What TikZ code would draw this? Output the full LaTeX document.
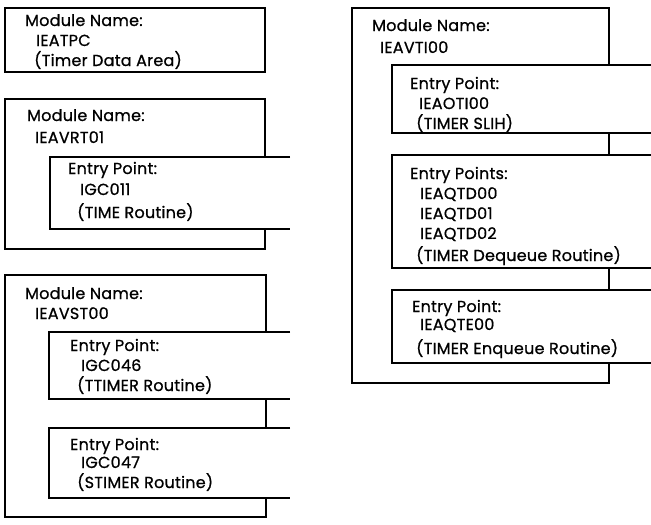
\documentclass[tikz,border=0pt]{standalone}
\usepackage{fontspec}
\setmainfont{Poppins}[FakeBold=0.8,LetterSpace=1.5]
\begin{document}
\begin{tikzpicture}[x=1pt,y=-1pt,
  box/.style={line width=2pt},
  inbox/.style={line width=2pt,fill=white},
  txt/.style={anchor=base west,inner sep=0pt,font=\fontsize{16}{16}\selectfont}]
\useasboundingbox (0,0) rectangle (651,525);
\clip (0,0) rectangle (651,525);
% ---- Box A
\draw[box] (5,8) rectangle (265,72);
\node[txt] (a1) at (25,26) {Module Name:};
\node[txt] (a2) at (36,46) {IEATPC};
\node[txt] (a3) at (34,66) {(Timer Data Area)};
% ---- Box B
\draw[box] (5,99) rectangle (265,249);
\node[txt] (b1) at (27,121) {Module Name:};
\node[txt] (b2) at (35,143) {IEAVRT01};
\draw[inbox] (290,157) -- (50,157) -- (50,229) -- (290,229);
\node[txt] (b3) at (68,174) {Entry Point:};
\node[txt] (b4) at (80,195) {IGC011};
\node[txt] (b5) at (77,218) {(TIME Routine)};
% ---- Box C
\draw[box] (5,275) rectangle (266,517);
\node[txt] (c1) at (25,299) {Module Name:};
\node[txt] (c2) at (35,319) {IEAVST00};
\draw[inbox] (290,332) -- (49,332) -- (49,399) -- (290,399);
\node[txt] (c3) at (70,351) {Entry Point:};
\node[txt] (c4) at (81,371) {IGC046};
\node[txt] (c5) at (77,391) {(TTIMER Routine)};
\draw[inbox] (290,428) -- (49,428) -- (49,498) -- (290,498);
\node[txt] (c6) at (70,450) {Entry Point:};
\node[txt] (c7) at (81,468) {IGC047};
\node[txt] (c8) at (77,488) {(STIMER Routine)};
% ---- Box D
\draw[box] (352,8) rectangle (609,383);
\node[txt] (d1) at (372,31) {Module Name:};
\node[txt] (d2) at (380,53) {IEAVTI00};
\draw[inbox] (660,65) -- (392,65) -- (392,133) -- (660,133);
\node[txt] (d3) at (410,89) {Entry Point:};
\node[txt] (d4) at (419,109) {IEAOTI00};
\node[txt] (d5) at (416,129) {(TIMER SLIH)};
\draw[inbox] (660,155) -- (392,155) -- (392,268) -- (660,268);
\node[txt] (d6) at (410,179) {Entry Points:};
\node[txt] (d7) at (420,199) {IEAQTD00};
\node[txt] (d8) at (420,219) {IEAQTD01};
\node[txt] (d9) at (420,239) {IEAQTD02};
\node[txt] (d10) at (416,261) {(TIMER Dequeue Routine)};
\draw[inbox] (660,290) -- (392,290) -- (392,363) -- (660,363);
\node[txt] (d11) at (412,312) {Entry Point:};
\node[txt] (d12) at (420,330) {IEAQTE00};
\node[txt] (d13) at (416,354) {(TIMER Enqueue Routine)};
\end{tikzpicture}
\end{document}
